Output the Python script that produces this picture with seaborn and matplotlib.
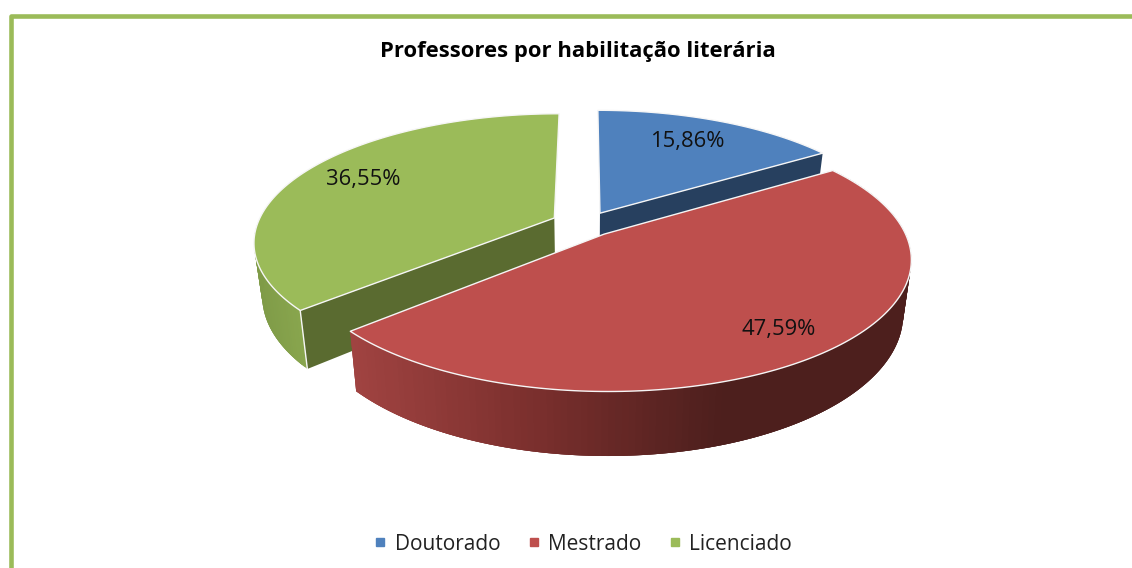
"""Professores por habilitacao literaria - exploded 3D pie"""
import numpy as np
import seaborn as sns
import matplotlib.pyplot as plt
from matplotlib.collections import PolyCollection
from matplotlib.lines import Line2D

# data
categories = ['Doutorado', 'Mestrado', 'Licenciado']
percentages = [15.86, 47.59, 36.55]
title = 'Professores por habilitação literária'

# style
top_colors = ['#4F81BD', '#BE4F4D', '#9BBB59']
cut_colors = ['#27405F', '#5A1F1D', '#5A6B30']
edge_color = '#F6F6F6'
border_color = '#9BBB59'

# projection of the pie plane on the page (pixels)
CX, CY, SCALE_X, SCALE_Y, TILT = 586, 224, 297, 125, 0.18
DEPTH = 52
SHRINK = 0.975
EXPLODE = [0.10, 0.10, 0.118]
LABEL_XY = [(687, 142), (779, 329), (363, 179)]


def project(u, v, low=False):
    """plane coordinates to page pixels, low=True gives the bottom face"""
    u, v = np.asarray(u, float), np.asarray(v, float)
    w = 1 - TILT * v
    x = SCALE_X * u / w
    y = CY + SCALE_Y * v / w
    if low:
        return CX + x * SHRINK, y + DEPTH / w
    return CX + x, y


def slice_plane(start, end, explode):
    """apex and rim of one slice, angles clockwise from 12 o'clock"""
    mid = np.radians((start + end) / 2)
    apex = np.array([explode * np.sin(mid), -explode * np.cos(mid)])
    angles = np.radians(np.linspace(start, end, 160))
    rim_u = apex[0] + np.sin(angles)
    rim_v = apex[1] - np.cos(angles)
    return apex, rim_u, rim_v


def quad(ax, a, b, color, zorder):
    """wall between two plane points, from top face to bottom face"""
    x1, y1 = project(*a)
    x2, y2 = project(*b)
    x3, y3 = project(*b, low=True)
    x4, y4 = project(*a, low=True)
    ax.fill([x1, x2, x3, x4], [y1, y2, y3, y4], color=color, lw=0, zorder=zorder)


def rim_wall(ax, rim_u, rim_v, colors_fn, zorder):
    xt, yt = project(rim_u, rim_v)
    xb, yb = project(rim_u, rim_v, low=True)
    polys, cols = [], []
    # every strip runs under the next one, that hides the seams
    for i in range(len(xt) - 1):
        j = min(i + 3, len(xt) - 1)
        polys.append([(xt[i], yt[i]), (xt[j], yt[j]), (xb[j], yb[j]), (xb[i], yb[i])])
        cols.append(colors_fn((xt[i] + xt[i + 1]) / 2))
    ax.add_collection(PolyCollection(polys, facecolors=cols, edgecolors='none',
                                     linewidths=0, zorder=zorder))


def top_face(ax, apex, rim_u, rim_v, color, zorder):
    xs, ys = project(np.r_[apex[0], rim_u], np.r_[apex[1], rim_v])
    ax.fill(xs, ys, facecolor=color, edgecolor=edge_color, lw=1.0,
            joinstyle='round', zorder=zorder)


sns.set_theme(style='white')
plt.rcParams['font.family'] = ['Open Sans', 'DejaVu Sans']

fig, ax = plt.subplots(figsize=(11.32, 5.68), dpi=100)
fig.subplots_adjust(left=0, right=1, bottom=0, top=1)
ax.set_xlim(0, 1132)
ax.set_ylim(568, 0)
ax.axis('off')

# frame, only left and top are visible
ax.plot([10.5, 10.5, 1132], [568, 16, 16], color=border_color, lw=3.3,
        solid_joinstyle='round', zorder=1)

ends = np.cumsum(percentages) * 3.6
starts = np.r_[0, ends[:-1]]
parts = [slice_plane(s, e, x) for s, e, x in zip(starts, ends, EXPLODE)]

# blue slice sits at the back
apex, rim_u, rim_v = parts[0]
quad(ax, apex, (rim_u[-1], rim_v[-1]), cut_colors[0], 2)
top_face(ax, apex, rim_u, rim_v, top_colors[0], 3)

# green slice, only the front of the rim shows a wall
apex, rim_u, rim_v = parts[2]
quad(ax, apex, (rim_u[0], rim_v[0]), cut_colors[2], 3)
green_side = sns.blend_palette(['#7E9A47', '#8BA84F'], 50)
front = rim_v > 0
rim_wall(ax, rim_u[front], rim_v[front],
         lambda x: green_side[int(np.clip((x - 250) / 60, 0, 1) * 49)], 3)
x0, y0 = project(rim_u[0], rim_v[0])
x1, y1 = project(rim_u[0], rim_v[0], low=True)
ax.plot([x0, x1], [y0, y1], color=edge_color, lw=1, zorder=4)
top_face(ax, apex, rim_u, rim_v, top_colors[2], 5)

# red slice in front, wall darkens left to right
apex, rim_u, rim_v = parts[1]
red_side = sns.blend_palette(['#A04341', '#7A2F2D', '#4D1F1D'], 100)
rim_wall(ax, rim_u, rim_v,
         lambda x: red_side[int(np.clip((x - 350) / 370, 0, 1) * 99)], 6)
top_face(ax, apex, rim_u, rim_v, top_colors[1], 7)

for value, (x, y) in zip(percentages, LABEL_XY):
    ax.text(x, y, f'{value:.2f}%'.replace('.', ','), ha='center', va='center',
            fontsize=15.8, color='#111111', zorder=10)

ax.text(578, 51, title, ha='center', va='center', fontsize=15.8,
        fontweight='bold', color='black', zorder=10)

handles = [Line2D([], [], ls='', marker='s', ms=5.8, color=c, label=n)
           for c, n in zip(top_colors[:2] + ['#9BBB59'], categories)]
ax.legend(handles=handles, ncol=3, loc='center', bbox_to_anchor=(583 / 1132, 1 - 544 / 568),
          frameon=False, fontsize=15, handlelength=0.6, handletextpad=0.4,
          columnspacing=1.3, labelcolor='#222222')

fig.savefig('out.png', dpi=100)
